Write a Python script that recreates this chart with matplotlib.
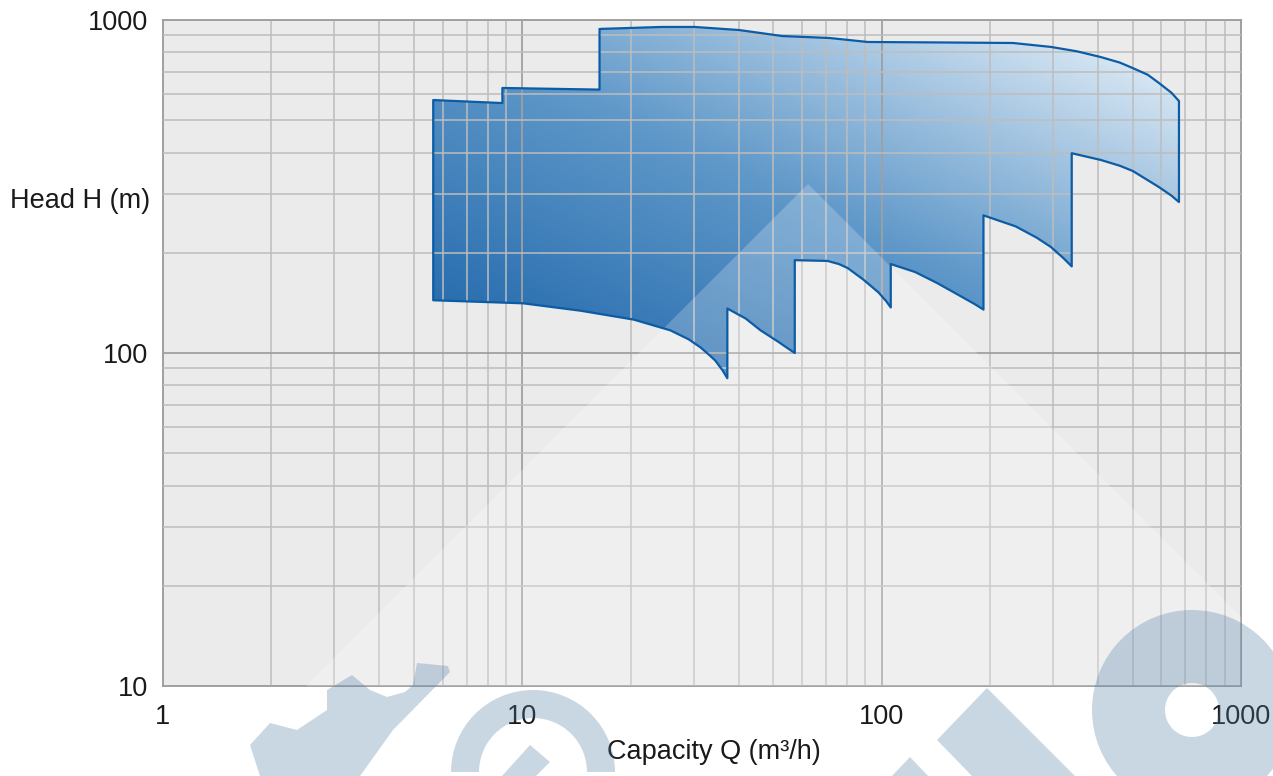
import numpy as np
import matplotlib.pyplot as plt
from matplotlib.path import Path
from matplotlib.patches import PathPatch, Polygon, Wedge
from matplotlib.colors import LinearSegmentedColormap

plt.rcParams['font.family'] = ['Liberation Sans', 'DejaVu Sans']

# upper edge of the operating range, left to right (Q in m3/h, H in m)
top_q = [5.65, 8.80, 8.80, 16.4, 16.4, 24.4, 30.2, 40.1, 52.9, 71.6, 91.4,
         150, 232, 296, 350, 407, 460, 500, 550, 591, 640, 672]
top_h = [575, 563, 625, 618, 940, 953, 953, 933, 895, 883, 859,
         856, 853, 830, 805, 774, 745, 717, 685, 647, 605, 571]

# lower edge, left to right (one curve per impeller size, joined by steps)
bot_q = [5.65, 10.05, 14.5, 20.4, 25.8, 29.0, 31.3, 33.0, 34.4, 36.0, 37.2,
         37.2, 41.8, 46.0, 51.6, 55.0, 57.3,
         57.3, 70.7, 76.0, 80.4, 89.0, 98.0, 103, 106,
         106, 124, 143, 168, 182, 192,
         192, 236, 270, 296, 320, 338,
         338, 407, 460, 500, 591, 640, 672]
bot_h = [144, 141, 134, 126, 117, 110, 104, 99, 95, 89, 84,
         136, 127, 117, 108, 103, 100,
         190, 189, 185, 180, 166, 152, 143, 137,
         185, 175, 162, 147, 140, 135,
         259, 240, 222, 208, 193, 182,
         398, 380, 365, 352, 315, 297, 284]

W, H = 1273, 776
fig = plt.figure(figsize=(W / 100, H / 100), dpi=100)
ax = fig.add_axes([163 / W, 90 / H, 1078 / W, 666 / H])
ax.set_xscale('log')
ax.set_yscale('log')
ax.set_xlim(1, 1000)
ax.set_ylim(10, 1000)
ax.set_facecolor('#ebebeb')

ax.set_axisbelow(False)
ax.grid(which='major', color='#a0a0a0', lw=1.3)
ax.grid(which='minor', color='#bdbdbd', lw=1.1)
for s in ax.spines.values():
    s.set_color('#9a9a9a')
    s.set_linewidth(1.3)

ax.set_xticks([1, 10, 100, 1000])
ax.set_xticklabels(['1', '10', '100', '1000'])
ax.set_yticks([10, 100, 1000])
ax.set_yticklabels(['10', '100', '1000'])
ax.tick_params(which='both', length=0, labelsize=19.5, labelcolor='#1a1a1a')
ax.tick_params(axis='x', pad=13)
ax.tick_params(axis='y', pad=11)

ax.set_xlabel('Capacity Q (m³/h)', fontsize=19.5, color='#1a1a1a', va='center')
ax.xaxis.set_label_coords(0.511, -0.099)
ax.set_ylabel('Head H (m)', fontsize=19.5, color='#1a1a1a', rotation=0,
              ha='right', va='center')
ax.yaxis.set_label_coords(-0.012, 0.728)

# polygon of the range
pts = np.column_stack([np.r_[top_q, bot_q[::-1]], np.r_[top_h, bot_h[::-1]]])
pts = np.vstack([pts, pts[:1]])
path = Path(pts, closed=True)
outline = PathPatch(path, facecolor='none', edgecolor='#0b5ca5', lw=1.6,
                    zorder=3, transform=ax.transData, joinstyle='round')
ax.add_patch(outline)

# diagonal gradient clipped to the polygon
fr = (ax.transData + ax.transAxes.inverted()).transform(pts)
u0, u1 = fr[:, 0].min(), fr[:, 0].max()
v0, v1 = fr[:, 1].min(), fr[:, 1].max()
uu, vv = np.meshgrid(np.linspace(0, 1, 600), np.linspace(0, 1, 400))
t = ((uu - u0) / (u1 - u0) + (vv - v0) / (v1 - v0)) / 2
cmap = LinearSegmentedColormap.from_list('g', ['#1a62a8', '#5f98c9', '#eef5fb'])
im = ax.imshow(t, cmap=cmap, vmin=0, vmax=1, origin='lower', extent=(0, 1, 0, 1),
               transform=ax.transAxes, aspect='auto', zorder=1,
               interpolation='bilinear')
im.set_clip_path(outline)


def px(x, y):
    # pixel position (from the top-left) to display coordinates
    return (x, H - y)


# light triangle of the background
tri = Polygon([px(808, 184), px(216, 776), px(1400, 776)], closed=True,
              facecolor='white', edgecolor='none', alpha=0.22, zorder=2.7,
              transform=None)
ax.add_patch(tri)
tri.set_transform(fig.dpi_scale_trans.inverted() + fig.dpi_scale_trans)

# faint logo along the bottom
logo_c = '#4c7da5'
gear = [(260, 776), (250, 745), (270, 723), (297, 730), (327, 710), (327, 690),
        (352, 675), (370, 690), (387, 697), (405, 692), (413, 685), (417, 663),
        (448, 666), (450, 672), (393, 730), (360, 776)]
shapes = [
    Polygon([px(*p) for p in gear], closed=True),
    Wedge(px(533, 772), 82, 0, 180, width=28),
    Polygon([px(530, 745), px(550, 762), px(536, 776), px(502, 776)], closed=True),
    Polygon([px(987, 688), px(1076, 777), px(973, 777), px(937, 740)], closed=True),
    Polygon([px(910, 757), px(929, 777), px(891, 777)], closed=True),
    Wedge(px(1192, 710), 100, 0, 360, width=73),
]
for s in shapes:
    s.set_transform(fig.dpi_scale_trans.inverted() + fig.dpi_scale_trans)
    s.set_facecolor(logo_c)
    s.set_edgecolor('none')
    s.set_alpha(0.3)
    s.set_zorder(5)
    fig.patches.append(s)

fig.savefig('out.png', dpi=100)
